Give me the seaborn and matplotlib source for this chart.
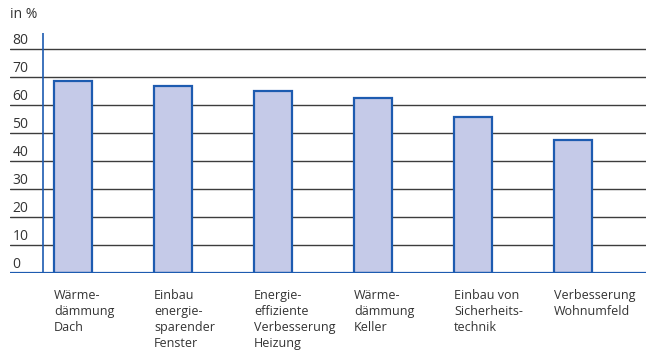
import matplotlib
matplotlib.use("Agg")
import matplotlib.pyplot as plt
import matplotlib.transforms as mtransforms
import seaborn as sns
import pandas as pd

categories = ["Wärme-\ndämmung\nDach",
              "Einbau\nenergie-\nsparender\nFenster",
              "Energie-\neffiziente\nVerbesserung\nHeizung",
              "Wärme-\ndämmung\nKeller",
              "Einbau von\nSicherheits-\ntechnik",
              "Verbesserung\nWohnumfeld"]
values = [68.7, 66.8, 65.0, 62.4, 55.6, 47.4]
yticks = [0, 10, 20, 30, 40, 50, 60, 70, 80]
unit_label = "in %"

sns.set_style("white")
plt.rcParams["font.family"] = ["Open Sans", "DejaVu Sans"]

text_col = "#333333"
blue = "#1d5bb0"

fig = plt.figure(figsize=(6.46, 3.53), dpi=100)
W, H = 646, 353
ax = fig.add_axes([10 / W, (H - 273) / H, 636 / W, 240 / H])

df = pd.DataFrame({"cat": categories, "val": values})
sns.barplot(data=df, x="cat", y="val", ax=ax, width=0.38,
            color="#c5cae8", edgecolor=blue, linewidth=1.6, saturation=1,
            zorder=3)

ax.set_xlim(-0.63, 5.73)
ax.set_ylim(0, 240 / 2.8)
for s in ax.spines.values():
    s.set_visible(False)
ax.set_xlabel("")
ax.set_ylabel("")
ax.set_xticks([])
ax.set_yticks([])

# gridlines and value labels sitting above them
for t in yticks[1:]:
    ax.axhline(t, color="#3c3c3c", lw=1.0, zorder=1)
trans = mtransforms.blended_transform_factory(ax.transAxes, ax.transData)
for t in yticks:
    ax.text(0.004, t + 3.2, str(t), transform=trans, ha="left", va="center",
            fontsize=10, color=text_col)

# axis lines in blue
ax.axhline(0, color=blue, lw=1.6, zorder=4)
ax.axvline(-0.30, ymin=0, ymax=1, color=blue, lw=1.2, zorder=4)

# category labels below the bars
trans_x = mtransforms.blended_transform_factory(ax.transData, ax.transAxes)
for i, c in enumerate(categories):
    ax.text(i - 0.19, -0.065, c, transform=trans_x, ha="left", va="top",
            fontsize=9, color=text_col, linespacing=1.3)

fig.text(10 / W, 1 - 15 / H, unit_label, ha="left", va="center",
         fontsize=10, color=text_col)

fig.savefig("out.png", dpi=100)
